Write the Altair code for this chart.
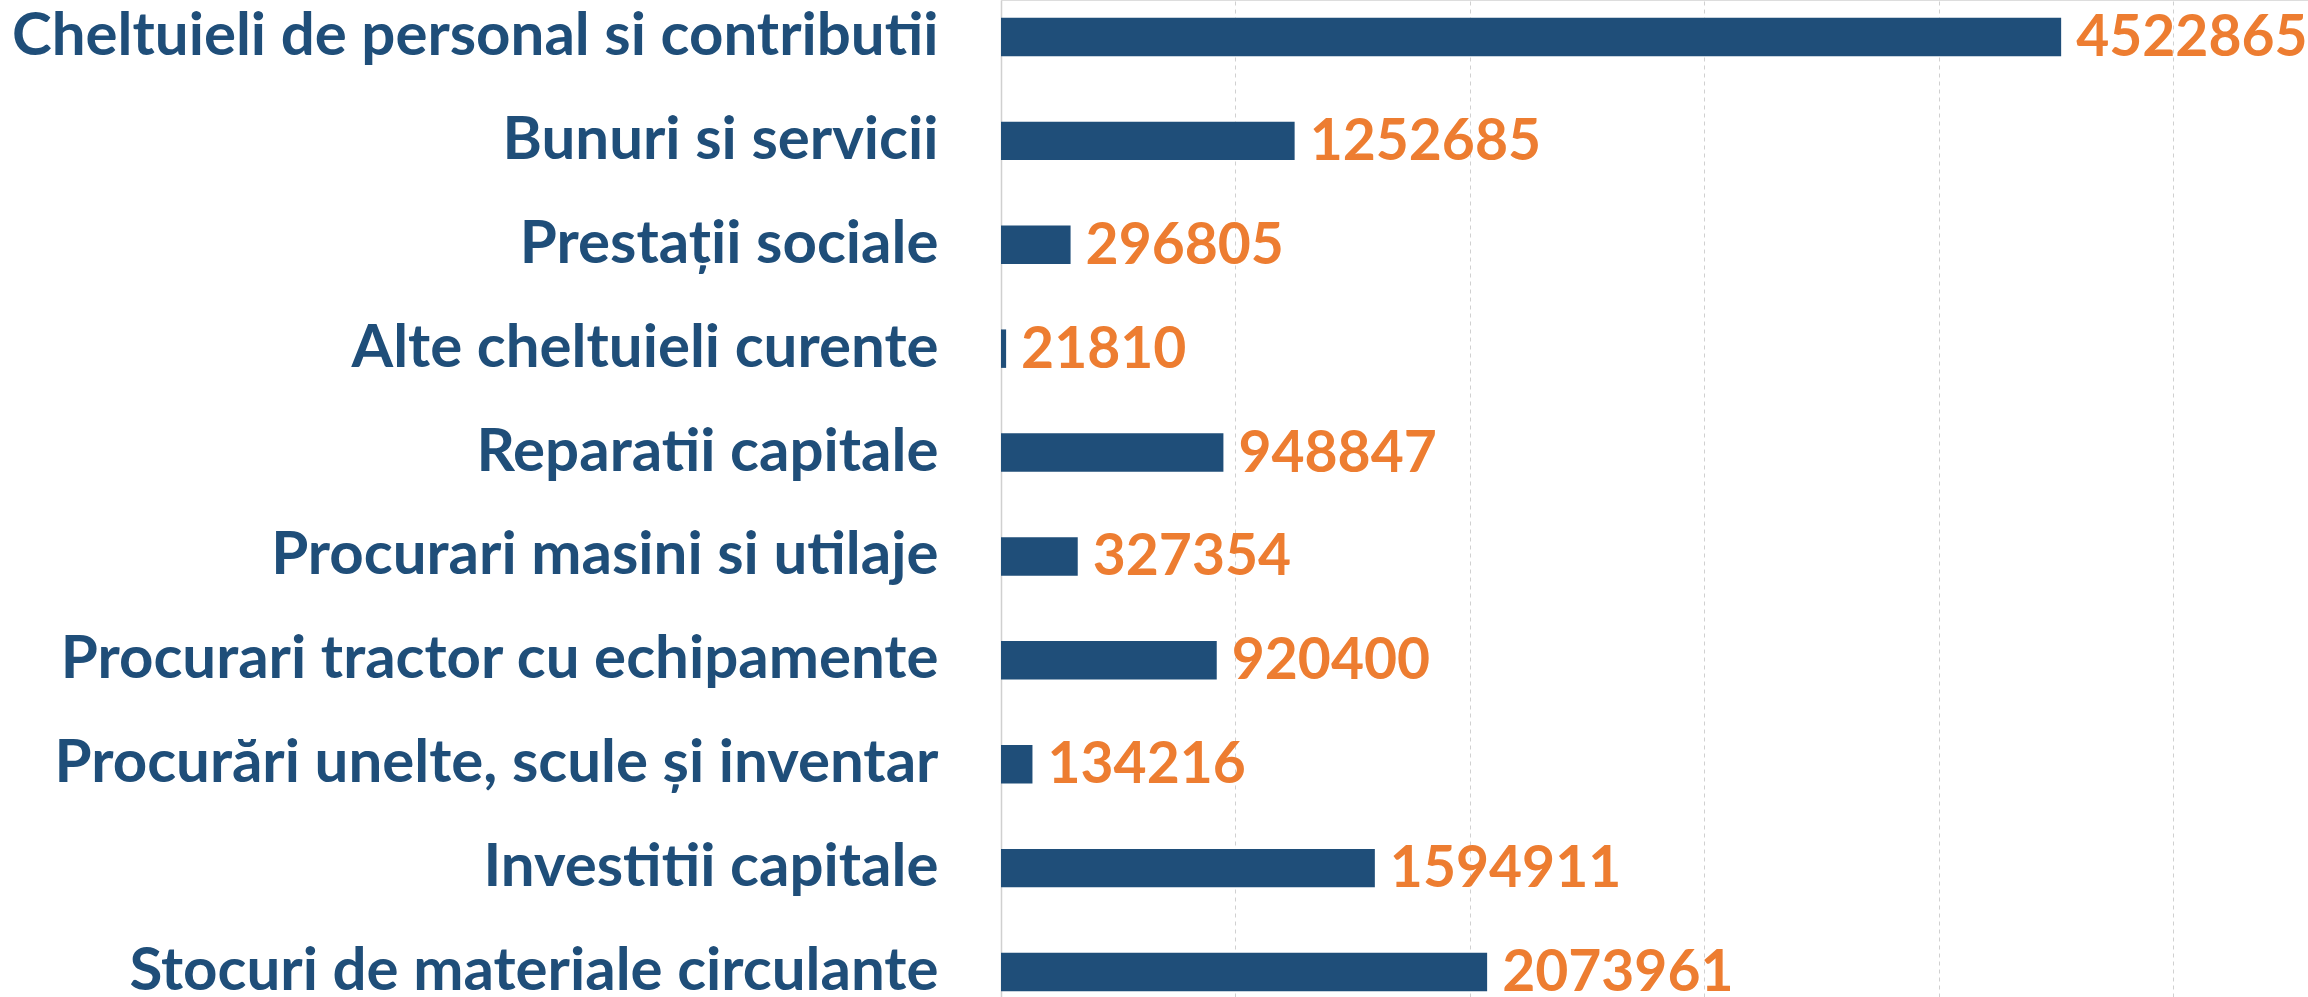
import altair as alt
import pandas as pd

categories = [
    "Cheltuieli de personal si contributii",
    "Bunuri si servicii",
    "Prestații sociale",
    "Alte cheltuieli curente",
    "Reparatii capitale",
    "Procurari masini si utilaje",
    "Procurari tractor cu echipamente",
    "Procurări unelte, scule și inventar",
    "Investitii capitale",
    "Stocuri de materiale circulante",
]
values = [4522865, 1252685, 296805, 21810, 948847, 327354, 920400, 134216, 1594911, 2073961]
grid_values = [1000000, 2000000, 3000000, 4000000, 5000000]

df = pd.DataFrame({"cat": categories, "val": values})

BLUE = "#1F4E79"
ORANGE = "#ED7D31"
FONT = "Lato"

x_enc = alt.X(
    "val:Q",
    scale=alt.Scale(domain=[0, 5576000], nice=False, zero=True),
    axis=alt.Axis(
        values=grid_values, grid=True, gridDash=[4, 4], gridColor="#D0D0D0",
        labels=False, ticks=False, domain=False, title=None,
    ),
)
y_enc = alt.Y(
    "cat:N",
    sort=None,
    scale=alt.Scale(paddingInner=0.63, paddingOuter=0.171, range=[0, 1009]),
    axis=alt.Axis(
        title=None, ticks=False, domain=True, domainColor="#D0D0D0", domainWidth=1.5,
        labelFont=FONT, labelFontWeight="bold", labelFontSize=60, labelColor=BLUE,
        labelPadding=63, labelLimit=1200,
    ),
)

bars = alt.Chart(df).mark_bar(color=BLUE).encode(x=x_enc, y=y_enc)
text = alt.Chart(df).mark_text(
    align="left", baseline="middle", dx=15, dy=2, font=FONT, fontWeight="bold",
    fontSize=57, color=ORANGE,
).encode(x=alt.X("val:Q"), y=alt.Y("cat:N", sort=None), text=alt.Text("val:Q", format="d"))

chart = (
    alt.layer(bars, text)
    .properties(
        width=1307, height=997,
        autosize=alt.AutoSizeParams(type="none"),
        padding={"left": 1001, "top": 0, "right": 0, "bottom": 0},
    )
    .configure_view(stroke=None)
    .configure(background="white")
)

chart.save("out.html", embed_options={"renderer": "svg", "actions": False})
